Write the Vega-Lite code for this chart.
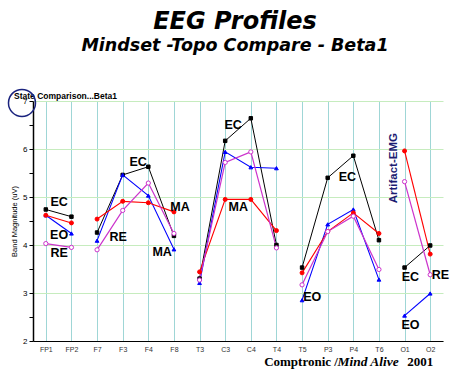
{
  "$schema": "https://vega.github.io/schema/vega-lite/v6.json",
  "width": 410,
  "height": 240,
  "autosize": {"type": "none"},
  "padding": {"left": 33, "top": 101, "right": 7, "bottom": 41},
  "background": "white",
  "title": {
    "text": "EEG Profiles",
    "subtitle": "Mindset -Topo Compare - Beta1",
    "font": "DejaVu Sans", "fontSize": 24, "fontStyle": "italic", "fontWeight": "bold", "color": "black",
    "subtitleFont": "DejaVu Sans", "subtitleFontSize": 17.5, "subtitleFontStyle": "italic", "subtitleFontWeight": "bold", "subtitleColor": "black",
    "anchor": "middle", "frame": "group", "offset": 32, "subtitlePadding": 3, "dx": -3
  },
  "config": {"view": {"stroke": null}},
  "datasets": {
    "eeg": [
      {"s":0,"st":"EC","g":1,"v":4.74},{"s":1,"st":"EC","g":1,"v":4.59},
      {"s":2,"st":"EC","g":2,"v":4.26},{"s":3,"st":"EC","g":2,"v":5.46},{"s":4,"st":"EC","g":2,"v":5.63},{"s":5,"st":"EC","g":2,"v":4.19},
      {"s":6,"st":"EC","g":3,"v":3.30},{"s":7,"st":"EC","g":3,"v":6.17},{"s":8,"st":"EC","g":3,"v":6.64},{"s":9,"st":"EC","g":3,"v":4.00},
      {"s":10,"st":"EC","g":4,"v":3.53},{"s":11,"st":"EC","g":4,"v":5.40},{"s":12,"st":"EC","g":4,"v":5.86},{"s":13,"st":"EC","g":4,"v":4.10},
      {"s":14,"st":"EC","g":5,"v":3.53},{"s":15,"st":"EC","g":5,"v":3.99},
      {"s":0,"st":"EO","g":1,"v":4.62},{"s":1,"st":"EO","g":1,"v":4.24},
      {"s":2,"st":"EO","g":2,"v":4.09},{"s":3,"st":"EO","g":2,"v":5.46},{"s":4,"st":"EO","g":2,"v":5.03},{"s":5,"st":"EO","g":2,"v":3.91},
      {"s":6,"st":"EO","g":3,"v":3.21},{"s":7,"st":"EO","g":3,"v":5.94},{"s":8,"st":"EO","g":3,"v":5.62},{"s":9,"st":"EO","g":3,"v":5.60},
      {"s":10,"st":"EO","g":4,"v":2.85},{"s":11,"st":"EO","g":4,"v":4.43},{"s":12,"st":"EO","g":4,"v":4.74},{"s":13,"st":"EO","g":4,"v":3.28},
      {"s":14,"st":"EO","g":5,"v":2.53},{"s":15,"st":"EO","g":5,"v":2.99},
      {"s":0,"st":"MA","g":1,"v":4.62},{"s":1,"st":"MA","g":1,"v":4.46},
      {"s":2,"st":"MA","g":2,"v":4.54},{"s":3,"st":"MA","g":2,"v":4.91},{"s":4,"st":"MA","g":2,"v":4.88},{"s":5,"st":"MA","g":2,"v":4.69},
      {"s":6,"st":"MA","g":3,"v":3.44},{"s":7,"st":"MA","g":3,"v":4.95},{"s":8,"st":"MA","g":3,"v":4.95},{"s":9,"st":"MA","g":3,"v":4.30},
      {"s":10,"st":"MA","g":4,"v":3.42},{"s":11,"st":"MA","g":4,"v":4.28},{"s":12,"st":"MA","g":4,"v":4.67},{"s":13,"st":"MA","g":4,"v":4.24},
      {"s":14,"st":"MA","g":5,"v":5.96},{"s":15,"st":"MA","g":5,"v":3.81},
      {"s":0,"st":"RE","g":1,"v":4.03},{"s":1,"st":"RE","g":1,"v":3.95},
      {"s":2,"st":"RE","g":2,"v":3.90},{"s":3,"st":"RE","g":2,"v":4.72},{"s":4,"st":"RE","g":2,"v":5.29},{"s":5,"st":"RE","g":2,"v":4.24},
      {"s":6,"st":"RE","g":3,"v":3.27},{"s":7,"st":"RE","g":3,"v":5.72},{"s":8,"st":"RE","g":3,"v":5.94},{"s":9,"st":"RE","g":3,"v":3.94},
      {"s":10,"st":"RE","g":4,"v":3.17},{"s":11,"st":"RE","g":4,"v":4.28},{"s":12,"st":"RE","g":4,"v":4.60},{"s":13,"st":"RE","g":4,"v":3.49},
      {"s":14,"st":"RE","g":5,"v":5.32},{"s":15,"st":"RE","g":5,"v":3.38}
    ],
    "labels": [
      {"t":"EC","x":0.52,"y":4.90},{"t":"EO","x":0.52,"y":4.21},{"t":"RE","x":0.52,"y":3.83},
      {"t":"EC","x":3.6,"y":5.73},{"t":"RE","x":2.82,"y":4.17},{"t":"MA","x":5.24,"y":4.79},{"t":"MA","x":4.54,"y":3.85},
      {"t":"EC","x":7.31,"y":6.5},{"t":"MA","x":7.51,"y":4.79},
      {"t":"EC","x":11.77,"y":5.42},{"t":"EO","x":10.4,"y":2.92},
      {"t":"EC","x":14.23,"y":3.33},{"t":"RE","x":15.4,"y":3.375},{"t":"EO","x":14.23,"y":2.33}
    ],
    "artifact": [{"t":"Artifact-EMG","x":13.6,"y":5.6}],
    "header": [{"t":"State Comparison...Beta1","x":-1.24,"y":7.1}],
    "ring": [{"x":-0.93,"y":6.96}],
    "foot1": [{"t":"Comptronic /","x":8.52,"y":1.5625}],
    "foot2": [{"t":"Mind Alive","x":11.38,"y":1.5625}],
    "foot3": [{"t":"2001","x":14.1,"y":1.5625}]
  },
  "layer": [
    {
      "data": {"name": "eeg"},
      "mark": {"type": "line"},
      "encoding": {
        "x": {"field": "s", "type": "quantitative",
          "scale": {"domain": [-0.5, 15.5], "nice": false, "zero": false},
          "axis": {"values": [0,1,2,3,4,5,6,7,8,9,10,11,12,13,14,15],
            "tickCount": 40,
            "labelExpr": "['FP1','FP2','F7','F3','F4','F8','T3','C3','C4','T4','T5','P3','P4','T6','O1','O2'][datum.value]",
            "labelOverlap": false,
            "grid": true, "gridColor": "#9fd6d6", "gridWidth": 1, "ticks": false,
            "domainColor": "black", "domainWidth": 1,
            "labelFont": "Liberation Sans", "labelFontSize": 7, "labelColor": "#333333", "labelPadding": 4,
            "title": null}},
        "y": {"field": "v", "type": "quantitative",
          "scale": {"domain": [2, 7], "nice": false, "zero": false},
          "axis": {"values": [2,2.5,3,3.5,4,4.5,5,5.5,6,6.5,7],
            "tickCount": 40,
            "labelExpr": "datum.value % 1 == 0 ? format(datum.value, 'd') : ''",
            "labelOverlap": false,
            "grid": true, "gridColor": "#c6ecbe",
            "gridOpacity": {"condition": {"test": "datum.value % 1 == 0", "value": 1}, "value": 0},
            "tickColor": "black", "tickSize": 4, "domainColor": "black", "domainWidth": 1.5,
            "labelFont": "Liberation Sans", "labelFontSize": 8, "labelColor": "black", "labelPadding": 2,
            "title": "Band Magnitude (uV)", "titleFont": "Liberation Sans", "titleFontSize": 7.5, "titleFontWeight": "normal", "titleColor": "black", "titlePadding": 4}},
        "color": {"field": "st", "type": "nominal", "scale": {"domain": ["EC","EO","MA","RE"], "range": ["#000000","#0000ff","#ff0000","#cc33cc"]}, "legend": null},
        "strokeWidth": {"field": "st", "type": "nominal", "scale": {"domain": ["EC","EO","MA","RE"], "range": [1, 1.2, 1.2, 2]}, "legend": null},
        "detail": {"field": "g"}
      }
    },
    {
      "data": {"name": "eeg"},
      "mark": {"type": "point", "filled": false, "opacity": 1, "strokeWidth": 1},
      "encoding": {
        "x": {"field": "s", "type": "quantitative"},
        "y": {"field": "v", "type": "quantitative"},
        "shape": {"field": "st", "type": "nominal", "scale": {"domain": ["EC","EO","MA","RE"], "range": ["square","triangle-up","circle","circle"]}, "legend": null},
        "fill": {"field": "st", "type": "nominal", "scale": {"domain": ["EC","EO","MA","RE"], "range": ["#000000","#0000ff","#ff0000","#ffffff"]}, "legend": null},
        "stroke": {"field": "st", "type": "nominal", "scale": {"domain": ["EC","EO","MA","RE"], "range": ["#000000","#0000ff","#ff0000","#cc33cc"]}, "legend": null},
        "size": {"field": "st", "type": "nominal", "scale": {"domain": ["EC","EO","MA","RE"], "range": [12, 18, 22, 20]}, "legend": null}
      }
    },
    {
      "data": {"name": "labels"},
      "mark": {"type": "text", "font": "Liberation Sans", "fontSize": 12.5, "fontWeight": "bold", "color": "black", "align": "center", "baseline": "middle"},
      "encoding": {
        "x": {"field": "x", "type": "quantitative"},
        "y": {"field": "y", "type": "quantitative"},
        "text": {"field": "t"}
      }
    },
    {
      "data": {"name": "artifact"},
      "mark": {"type": "text", "font": "Liberation Sans", "fontSize": 11.5, "fontWeight": "bold", "color": "#1c1c72", "align": "center", "baseline": "middle", "angle": 270},
      "encoding": {
        "x": {"field": "x", "type": "quantitative"},
        "y": {"field": "y", "type": "quantitative"},
        "text": {"field": "t"}
      }
    },
    {
      "data": {"name": "header"},
      "mark": {"type": "text", "font": "Liberation Sans", "fontSize": 8.5, "fontWeight": "bold", "color": "black", "align": "left", "baseline": "middle"},
      "encoding": {
        "x": {"field": "x", "type": "quantitative"},
        "y": {"field": "y", "type": "quantitative"},
        "text": {"field": "t"}
      }
    },
    {
      "data": {"name": "ring"},
      "mark": {"type": "point", "shape": "circle", "filled": false, "size": 729, "stroke": "#1a237e", "strokeWidth": 1.5, "opacity": 1},
      "encoding": {
        "x": {"field": "x", "type": "quantitative"},
        "y": {"field": "y", "type": "quantitative"}
      }
    },
    {
      "data": {"name": "foot1"},
      "mark": {"type": "text", "font": "Liberation Serif", "fontSize": 13, "fontWeight": "bold", "color": "black", "align": "left", "baseline": "middle"},
      "encoding": {
        "x": {"field": "x", "type": "quantitative"},
        "y": {"field": "y", "type": "quantitative"},
        "text": {"field": "t"}
      }
    },
    {
      "data": {"name": "foot2"},
      "mark": {"type": "text", "font": "Liberation Serif", "fontSize": 13.5, "fontWeight": "bold", "fontStyle": "italic", "color": "black", "align": "left", "baseline": "middle"},
      "encoding": {
        "x": {"field": "x", "type": "quantitative"},
        "y": {"field": "y", "type": "quantitative"},
        "text": {"field": "t"}
      }
    },
    {
      "data": {"name": "foot3"},
      "mark": {"type": "text", "font": "Liberation Serif", "fontSize": 13, "fontWeight": "bold", "color": "black", "align": "left", "baseline": "middle"},
      "encoding": {
        "x": {"field": "x", "type": "quantitative"},
        "y": {"field": "y", "type": "quantitative"},
        "text": {"field": "t"}
      }
    }
  ]
}
